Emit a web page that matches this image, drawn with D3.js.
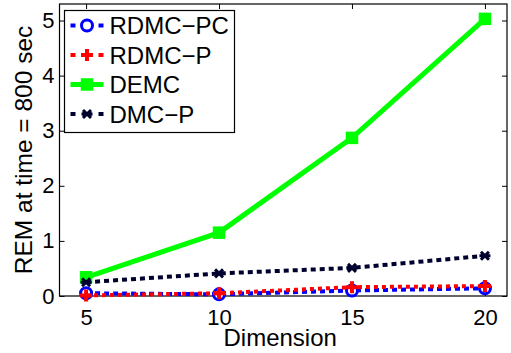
<!DOCTYPE html>
<meta charset="utf-8">
<head>
  <title>REM vs dimension</title>
  <style>
    body { margin: 0; background: #fff; }
    text { font-family: "Liberation Sans", Arial, sans-serif; fill: #000; }
  </style>
</head>
<body>
<div id="my_dataviz"></div>
<script src="https://d3js.org/d3.v7.min.js"></script>
<script>

// data
var dims = [5, 10, 15, 20];
var rdmcPC = [0.05, 0.03, 0.10, 0.14];
var rdmcP = [0.01, 0.05, 0.16, 0.18];
var demc = [0.34, 1.15, 2.87, 5.03];
var dmcP = [0.25, 0.41, 0.51, 0.73];
var xTicks = [5, 10, 15, 20];
var yTicks = [0, 1, 2, 3, 4, 5];

var series = [
  {name: "RDMC\u2212PC", values: rdmcPC, color: "#0000ff", dash: "5,4", marker: "circle"},
  {name: "RDMC\u2212P", values: rdmcP, color: "#ff0000", dash: "4,4", marker: "plus"},
  {name: "DEMC", values: demc, color: "#00ff00", dash: null, marker: "square"},
  {name: "DMC\u2212P", values: dmcP, color: "#00002e", dash: "5,4", marker: "star"}
];

var width = 511, height = 353;
var margin = {top: 4, right: 4, bottom: 57, left: 59.5};
var w = width - margin.left - margin.right,
    h = height - margin.top - margin.bottom;

var svg = d3.select("#my_dataviz")
  .append("svg")
    .attr("width", width)
    .attr("height", height);

var g = svg.append("g")
    .attr("transform", "translate(" + margin.left + "," + margin.top + ")");

var x = d3.scaleLinear().domain([4, 20.83]).range([0, w]);
var y = d3.scaleLinear().domain([0, 5.3]).range([h, 0]);
var fmt = d3.format("d");

// axes box, ticks pointing inward on all four sides
g.append("g")
    .attr("transform", "translate(0," + h + ")")
    .call(d3.axisBottom(x).tickValues(xTicks).tickFormat(fmt).tickSizeInner(-5).tickSizeOuter(0).tickPadding(13))
    .call(function(a) { a.selectAll("text").style("font-size", "22px").attr("dy", "0.71em"); });
g.append("g")
    .call(d3.axisTop(x).tickValues(xTicks).tickSizeInner(-5).tickSizeOuter(0).tickFormat(""));
g.append("g")
    .call(d3.axisLeft(y).tickValues(yTicks).tickFormat(fmt).tickSizeInner(-5).tickSizeOuter(0).tickPadding(5))
    .call(function(a) { a.selectAll("text").style("font-size", "22px"); });
g.append("g")
    .attr("transform", "translate(" + w + ",0)")
    .call(d3.axisRight(y).tickValues(yTicks).tickSizeInner(-5).tickSizeOuter(0).tickFormat(""));
g.selectAll(".domain").remove();
g.selectAll(".tick line").attr("stroke", "#000").attr("stroke-width", 1);

g.append("rect")
    .attr("width", w).attr("height", h)
    .attr("fill", "none").attr("stroke", "#000").attr("stroke-width", 1.2);

// axis labels
svg.append("text")
    .attr("x", margin.left + x(12.3))
    .attr("y", 346)
    .attr("text-anchor", "middle")
    .style("font-size", "24px")
    .text("Dimension");
svg.append("text")
    .attr("transform", "translate(32," + (margin.top + h / 2) + ") rotate(-90)")
    .attr("text-anchor", "middle")
    .style("font-size", "24.5px")
    .text("REM at time = 800 sec");

function drawMarker(sel, type, color) {
  if (type === "circle") {
    sel.append("circle").attr("r", 5.5).attr("fill", "#fff")
      .attr("stroke", color).attr("stroke-width", 3);
  } else if (type === "plus") {
    sel.append("path").attr("d", "M-6,0H6M0,-6V6")
      .attr("stroke", color).attr("stroke-width", 4);
  } else if (type === "square") {
    sel.append("rect").attr("x", -5.5).attr("y", -5.5).attr("width", 11).attr("height", 11)
      .attr("fill", color).attr("stroke", color).attr("stroke-width", 1.5);
  } else {
    sel.append("path").attr("d", "M-4,-4L4,4M-4,4L4,-4M-5.5,0H5.5")
      .attr("stroke", color).attr("stroke-width", 3);
  }
}

var line = d3.line()
    .x(function(d, i) { return x(dims[i]); })
    .y(function(d) { return y(d); });

series.forEach(function(s) {
  g.append("path")
    .datum(s.values)
    .attr("fill", "none")
    .attr("stroke", s.color)
    .attr("stroke-width", s.dash ? 4 : 5)
    .attr("stroke-dasharray", s.dash)
    .attr("d", line);
  s.values.forEach(function(v, i) {
    var m = g.append("g").attr("transform", "translate(" + x(dims[i]) + "," + y(v) + ")");
    drawMarker(m, s.marker, s.color);
  });
});

// legend
var leg = svg.append("g").attr("transform", "translate(64.5,10.5)");
leg.append("rect")
    .attr("width", 170).attr("height", 122)
    .attr("fill", "#fff").attr("stroke", "#000").attr("stroke-width", 1.2);
series.forEach(function(s, i) {
  var row = leg.append("g").attr("transform", "translate(0," + (15 + i * 29.5) + ")");
  row.append("line")
    .attr("x1", 6).attr("x2", 39)
    .attr("stroke", s.color)
    .attr("stroke-width", s.dash ? 4 : 5)
    .attr("stroke-dasharray", s.dash ? "5,7,9,7,5" : null);
  var m = row.append("g").attr("transform", "translate(22.5,0)");
  drawMarker(m, s.marker, s.color);
  row.append("text")
    .attr("x", 45)
    .attr("y", 0)
    .attr("dy", "0.36em")
    .style("font-size", "24px")
    .text(s.name);
});

</script>
</body>
</html>
